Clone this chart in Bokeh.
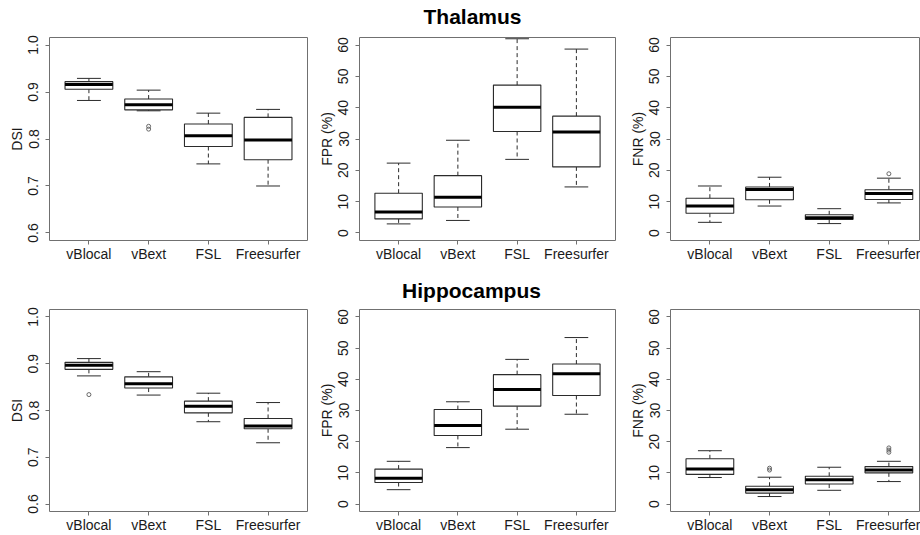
from bokeh.plotting import figure
from bokeh.models import Range1d, FixedTicker, PrintfTickFormatter
from bokeh.layouts import row, column
from bokeh.embed import file_html
from bokeh.resources import INLINE
from bokeh.core.properties import value

# ---------------- data ----------------
categories = ["vBlocal", "vBext", "FSL", "Freesurfer"]
positions = [1, 2, 3, 4]

dsi_ticks = [0.6, 0.7, 0.8, 0.9, 1.0]
pct_ticks = [0, 10, 20, 30, 40, 50, 60]

# each row: [lower whisker, Q1, median, Q3, upper whisker]
thal_dsi = [[0.882, 0.906, 0.916, 0.922, 0.929],
            [0.860, 0.862, 0.873, 0.885, 0.904],
            [0.747, 0.784, 0.807, 0.832, 0.855],
            [0.700, 0.756, 0.798, 0.846, 0.863]]
thal_dsi_out_cat = ["vBext", "vBext"]
thal_dsi_out_val = [0.827, 0.821]

thal_fpr = [[2.9, 4.5, 6.7, 12.7, 22.3],
            [4.0, 8.3, 11.4, 18.3, 29.6],
            [23.5, 32.4, 40.1, 47.2, 62.0],
            [14.7, 21.1, 32.2, 37.3, 58.7]]
thal_fpr_out_cat = []
thal_fpr_out_val = []

thal_fnr = [[3.4, 6.3, 8.6, 11.1, 15.0],
            [8.6, 10.6, 13.9, 14.7, 17.8],
            [3.0, 4.35, 4.9, 5.8, 7.75],
            [9.6, 10.7, 12.6, 13.8, 17.5]]
thal_fnr_out_cat = ["Freesurfer"]
thal_fnr_out_val = [18.9]

hipp_dsi = [[0.874, 0.888, 0.897, 0.903, 0.911],
            [0.833, 0.848, 0.857, 0.872, 0.883],
            [0.776, 0.795, 0.809, 0.820, 0.837],
            [0.731, 0.761, 0.767, 0.783, 0.817]]
hipp_dsi_out_cat = ["vBlocal"]
hipp_dsi_out_val = [0.834]

hipp_fpr = [[4.6, 6.9, 8.3, 11.2, 13.7],
            [18.1, 22.0, 25.2, 30.3, 32.8],
            [24.0, 31.4, 36.7, 41.5, 46.4],
            [28.8, 34.8, 41.8, 44.9, 53.4]]
hipp_fpr_out_cat = []
hipp_fpr_out_val = []

hipp_fnr = [[8.5, 9.5, 11.2, 14.5, 17.1],
            [2.4, 3.5, 4.6, 5.7, 8.6],
            [4.4, 6.4, 7.8, 8.9, 11.8],
            [7.2, 10.0, 10.9, 12.0, 13.7]]
hipp_fnr_out_cat = ["vBext", "vBext", "Freesurfer", "Freesurfer", "Freesurfer"]
hipp_fnr_out_val = [11.5, 10.9, 18.0, 17.3, 16.6]

row_titles = ["Thalamus", "Hippocampus"]

# ---------------- styling ----------------
FONT = "Liberation Sans"
BOX_COLOR = "#2b2b2b"
FRAME_COLOR = "#707070"
TOTAL_W = 920


def panel(stats, out_cat, out_val, ylabel, yticks, yfmt, ylo, yhi, width, bl, br,
          height, bt, bb, xmax):
    p = figure(width=width, height=height, output_backend="svg",
               toolbar_location=None, min_border_left=bl, min_border_right=br,
               min_border_top=bt, min_border_bottom=bb,
               x_range=Range1d(0.34, xmax), y_range=Range1d(ylo, yhi))
    p.background_fill_color = "white"
    p.border_fill_color = "white"
    p.outline_line_color = FRAME_COLOR
    p.outline_line_width = 1
    p.grid.visible = False

    lo = [s[0] for s in stats]
    q1 = [s[1] for s in stats]
    med = [s[2] for s in stats]
    q3 = [s[3] for s in stats]
    hi = [s[4] for s in stats]
    xs = positions

    # whiskers (dashed)
    p.segment(x0=xs, y0=q3, x1=xs, y1=hi, line_color=BOX_COLOR,
              line_width=1, line_dash="4 3")
    p.segment(x0=xs, y0=q1, x1=xs, y1=lo, line_color=BOX_COLOR,
              line_width=1, line_dash="4 3")
    # staples
    p.segment(x0=[x - 0.2 for x in xs], y0=hi, x1=[x + 0.2 for x in xs], y1=hi,
              line_color=BOX_COLOR, line_width=1)
    p.segment(x0=[x - 0.2 for x in xs], y0=lo, x1=[x + 0.2 for x in xs], y1=lo,
              line_color=BOX_COLOR, line_width=1)
    # boxes
    p.vbar(x=xs, width=0.8, bottom=q1, top=q3, fill_color="white",
           line_color=BOX_COLOR, line_width=1.1)
    # medians
    p.segment(x0=[x - 0.4 for x in xs], y0=med, x1=[x + 0.4 for x in xs], y1=med,
              line_color="black", line_width=3, line_cap="butt")
    # outliers
    if out_cat:
        ox = [positions[categories.index(c)] for c in out_cat]
        p.scatter(x=ox, y=out_val, marker="circle", size=4,
                  fill_color=None, line_color="#666666", line_width=1)

    # axes
    p.xaxis.ticker = FixedTicker(ticks=positions)
    p.xaxis.major_label_overrides = {pos: cat for pos, cat in zip(positions, categories)}
    p.yaxis.ticker = FixedTicker(ticks=yticks)
    p.yaxis.formatter = PrintfTickFormatter(format=yfmt)
    p.yaxis.axis_label = ylabel
    p.yaxis.major_label_orientation = "vertical"
    for ax in (p.xaxis[0], p.yaxis[0]):
        ax.axis_line_color = None
        ax.major_tick_in = 0
        ax.major_tick_out = 4
        ax.major_tick_line_color = FRAME_COLOR
        ax.minor_tick_line_color = None
        ax.major_label_text_font = FONT
        ax.major_label_text_font_size = "14px"
        ax.major_label_text_color = "#1a1a1a"
        ax.axis_label_text_font = FONT
        ax.axis_label_text_font_size = "14px"
        ax.axis_label_text_font_style = "normal"
        ax.axis_label_text_color = "#1a1a1a"
    p.xaxis.major_label_standoff = 1
    p.yaxis.major_label_standoff = 7
    p.yaxis.axis_label_standoff = 1
    return p


def title_strip(text, height, center_x, center_from_top):
    s = figure(width=TOTAL_W, height=height, output_backend="svg",
               toolbar_location=None, min_border=0,
               x_range=Range1d(0, TOTAL_W), y_range=Range1d(0, height))
    s.axis.visible = False
    s.grid.visible = False
    s.outline_line_color = None
    s.background_fill_color = "white"
    s.border_fill_color = "white"
    s.text(x=[center_x], y=[height - center_from_top], text=[text],
           text_font=value(FONT), text_font_size="21px", text_font_style="bold",
           text_align="center", text_baseline="middle", text_color="black")
    return s


# layout geometry: (width, border_left, border_right, x_max)
W = [(315, 49, 8, 4.66), (308, 44, 8, 4.66), (297, 47, 0, 4.53)]
# (height, border_top, border_bottom)
ROW_GEOM = [(234, 7, 23), (233, 7, 22)]
# (height, center x, center from top)
STRIPS = [(30, 472, 16), (38, 471, 26)]

panel_sets = [
    [(thal_dsi, thal_dsi_out_cat, thal_dsi_out_val, "DSI"),
     (thal_fpr, thal_fpr_out_cat, thal_fpr_out_val, "FPR (%)"),
     (thal_fnr, thal_fnr_out_cat, thal_fnr_out_val, "FNR (%)")],
    [(hipp_dsi, hipp_dsi_out_cat, hipp_dsi_out_val, "DSI"),
     (hipp_fpr, hipp_fpr_out_cat, hipp_fpr_out_val, "FPR (%)"),
     (hipp_fnr, hipp_fnr_out_cat, hipp_fnr_out_val, "FNR (%)")],
]

items = []
for r, panels in enumerate(panel_sets):
    sh, sx, sy = STRIPS[r]
    items.append(title_strip(row_titles[r], sh, sx, sy))
    h, bt, bb = ROW_GEOM[r]
    figs = []
    for c, (stats, oc, ov, lab) in enumerate(panels):
        w, bl, br, xmax = W[c]
        if lab == "DSI":
            yt, fmt, ylo, yhi = dsi_ticks, "%.1f", 0.584, 1.016
        else:
            yt, fmt, ylo, yhi = pct_ticks, "%d", -2.4, 62.4
        figs.append(panel(stats, oc, ov, lab, yt, fmt, ylo, yhi, w, bl, br,
                          h, bt, bb, xmax))
    items.append(row(*figs))

layout = column(*items)
open("out.html", "w").write(file_html(layout, INLINE))
